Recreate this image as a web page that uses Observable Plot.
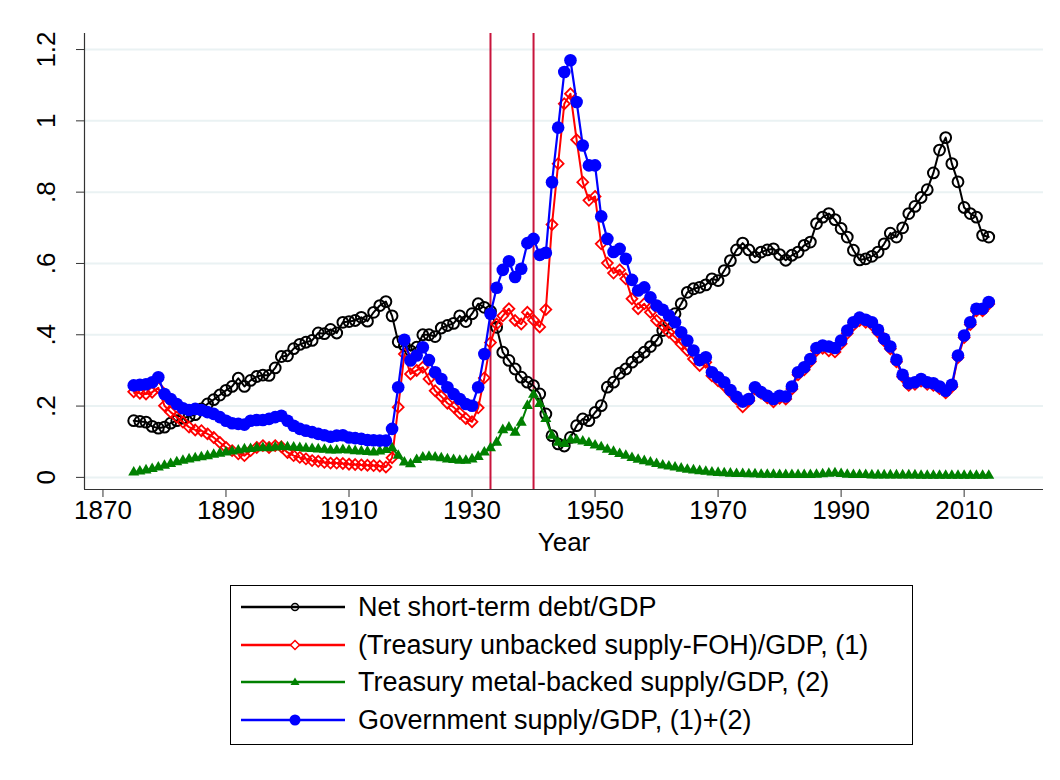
<!DOCTYPE html>
<html><head><meta charset="utf-8">
<script src="https://cdn.jsdelivr.net/npm/d3@7"></script>
<script src="https://cdn.jsdelivr.net/npm/@observablehq/plot@0.6"></script>
<style>
body{margin:0;background:#fff;}
#wrap{position:relative;width:1060px;height:780px;font-family:"Liberation Sans",Arial,sans-serif;}
#chart{position:absolute;left:0;top:0;}
#legend{position:absolute;left:230px;top:585px;width:681px;height:158px;border:1px solid #000;background:#fff;}
.row{position:absolute;left:9px;height:38px;display:flex;align-items:center;font-size:27px;color:#000;white-space:nowrap;}
.row svg{margin-right:12px;}
</style></head><body><div id="wrap"><div id="chart"></div><div id="legend"></div></div>
<script>
const years = d3.range(1875, 2015);
const debt = [
 0.159,0.157,0.155,0.143,0.138,
 0.141,0.152,0.159,0.166,0.171,0.176,0.192,0.206,0.218,0.231,
 0.244,0.255,0.278,0.255,0.272,0.283,0.287,0.286,0.307,0.339,
 0.341,0.361,0.373,0.379,0.384,0.405,0.403,0.415,0.405,0.435,
 0.437,0.440,0.449,0.438,0.463,0.482,0.493,0.453,0.380,0.370,
 0.355,0.365,0.400,0.400,0.395,0.419,0.426,0.432,0.453,0.437,
 0.459,0.487,0.477,0.466,0.421,0.351,0.328,0.304,0.281,0.267,
 0.257,0.234,0.178,0.117,0.094,0.088,0.112,0.145,0.164,0.159,
 0.182,0.201,0.253,0.267,0.292,0.304,0.323,0.337,0.351,0.367,
 0.384,0.412,0.430,0.459,0.487,0.519,0.529,0.533,0.540,0.557,
 0.552,0.580,0.608,0.638,0.657,0.638,0.618,0.632,0.638,0.641,
 0.625,0.609,0.623,0.632,0.651,0.660,0.712,0.730,0.740,0.723,
 0.698,0.674,0.637,0.610,0.613,0.620,0.632,0.655,0.685,0.674,
 0.700,0.740,0.760,0.785,0.807,0.854,0.918,0.953,0.880,0.829,
 0.757,0.740,0.730,0.679,0.674];
const unbacked = [
 0.240,0.236,0.234,0.239,0.251,
 0.201,0.183,0.169,0.155,0.141,0.133,0.131,0.122,0.112,0.098,
 0.084,0.075,0.066,0.061,0.075,0.084,0.089,0.084,0.089,0.086,
 0.070,0.061,0.056,0.052,0.047,0.045,0.042,0.040,0.040,0.039,
 0.037,0.036,0.035,0.034,0.033,0.032,0.029,0.055,0.197,0.346,
 0.290,0.300,0.309,0.276,0.243,0.227,0.208,0.197,0.180,0.165,
 0.156,0.195,0.279,0.378,0.430,0.453,0.473,0.440,0.430,0.463,
 0.441,0.422,0.471,0.709,0.880,1.048,1.076,0.947,0.828,0.777,
 0.788,0.655,0.601,0.573,0.582,0.557,0.501,0.473,0.487,0.463,
 0.440,0.426,0.407,0.393,0.374,0.356,0.332,0.314,0.323,0.285,
 0.271,0.257,0.239,0.220,0.198,0.215,0.248,0.236,0.223,0.212,
 0.222,0.220,0.248,0.288,0.302,0.325,0.356,0.362,0.355,0.352,
 0.375,0.404,0.427,0.440,0.435,0.428,0.407,0.383,0.361,0.324,
 0.282,0.258,0.261,0.270,0.261,0.258,0.249,0.237,0.254,0.336,
 0.392,0.429,0.467,0.467,0.486];
const metal = [
 0.014,0.017,0.020,0.024,0.028,
 0.033,0.038,0.043,0.047,0.051,0.054,0.057,0.060,0.064,0.067,
 0.070,0.073,0.076,0.079,0.080,0.082,0.083,0.082,0.084,0.086,
 0.085,0.084,0.083,0.081,0.080,0.079,0.078,0.076,0.076,0.077,
 0.076,0.074,0.073,0.072,0.070,0.073,0.077,0.082,0.061,0.042,
 0.037,0.049,0.056,0.058,0.056,0.054,0.051,0.049,0.047,0.047,
 0.051,0.058,0.070,0.082,0.098,0.133,0.140,0.126,0.154,0.201,
 0.232,0.206,0.164,0.117,0.098,0.094,0.105,0.105,0.101,0.097,
 0.090,0.085,0.078,0.072,0.066,0.061,0.055,0.050,0.046,0.042,
 0.038,0.034,0.031,0.028,0.025,0.022,0.020,0.018,0.016,0.014,
 0.013,0.012,0.011,0.010,0.010,0.009,0.009,0.008,0.008,0.008,
 0.007,0.007,0.007,0.007,0.007,0.007,0.008,0.009,0.011,0.012,
 0.010,0.008,0.007,0.007,0.007,0.006,0.006,0.006,0.006,0.006,
 0.006,0.006,0.006,0.005,0.005,0.005,0.005,0.005,0.005,0.005,
 0.005,0.005,0.005,0.005,0.005];
const govt = [
 0.258,0.260,0.261,0.267,0.281,
 0.234,0.220,0.206,0.194,0.189,0.192,0.189,0.183,0.178,0.169,
 0.159,0.152,0.150,0.148,0.159,0.161,0.161,0.164,0.169,0.173,
 0.159,0.145,0.136,0.131,0.127,0.122,0.118,0.114,0.117,0.118,
 0.112,0.110,0.108,0.105,0.104,0.103,0.103,0.136,0.253,0.386,
 0.328,0.342,0.365,0.329,0.295,0.276,0.253,0.234,0.220,0.206,
 0.201,0.253,0.346,0.459,0.532,0.582,0.606,0.562,0.585,0.657,
 0.669,0.624,0.630,0.828,0.981,1.137,1.170,1.053,0.931,0.875,
 0.875,0.732,0.669,0.632,0.641,0.613,0.554,0.524,0.533,0.505,
 0.482,0.470,0.454,0.435,0.407,0.384,0.356,0.329,0.337,0.295,
 0.281,0.267,0.245,0.226,0.213,0.220,0.253,0.239,0.229,0.220,
 0.229,0.227,0.255,0.295,0.309,0.332,0.363,0.370,0.367,0.363,
 0.384,0.412,0.435,0.448,0.442,0.435,0.414,0.389,0.367,0.330,
 0.288,0.264,0.267,0.276,0.267,0.264,0.255,0.243,0.260,0.342,
 0.398,0.435,0.473,0.473,0.492];
const seriesNames = ["Net short-term debt/GDP","(Treasury unbacked supply-FOH)/GDP, (1)","Treasury metal-backed supply/GDP, (2)","Government supply/GDP, (1)+(2)"];
const xTicks = [1870,1890,1910,1930,1950,1970,1990,2010];
const yTicks = [0,0.2,0.4,0.6,0.8,1,1.2];
const yLabels = ["0",".2",".4",".6",".8","1","1.2"];
const vLines = [1933,1940];

const FONT = '"Liberation Sans",Arial,sans-serif';
const toRows = arr => years.map((y,i)=>({year:y, v:arr[i]}));
const dDebt = toRows(debt), dUnb = toRows(unbacked), dMet = toRows(metal), dGov = toRows(govt);
const xDomain = [1867, 2022.9], yDomain = [-0.034, 1.245];
const H = 570;

const chart = Plot.plot({
  width: 1060, height: H,
  marginLeft: 84, marginRight: 17, marginTop: 33, marginBottom: H - 489,
  x: {domain: xDomain}, y: {domain: yDomain},
  style: {fontFamily: FONT, fontSize: "26px", color: "#000", background: "#fff", overflow: "visible"},
  marks: [
    Plot.ruleY(yTicks, {y: d=>d, stroke: "#eaf2f3", strokeWidth: 2}),
    Plot.ruleX(vLines, {x: d=>d, stroke: "#c8143c", strokeWidth: 2}),
    Plot.line(dDebt, {x:"year", y:"v", stroke:"#000", strokeWidth:2}),
    Plot.dot(dDebt, {x:"year", y:"v", r:5.4, stroke:"#000", strokeWidth:2, fill:"none"}),
    Plot.line(dUnb, {x:"year", y:"v", stroke:"#ff0000", strokeWidth:2}),
    Plot.dot(dUnb, {x:"year", y:"v", symbol:"diamond2", r:4.9, stroke:"#ff0000", strokeWidth:1.8, fill:"none"}),
    Plot.line(dMet, {x:"year", y:"v", stroke:"#008000", strokeWidth:2}),
    Plot.dot(dMet, {x:"year", y:"v", symbol:"triangle", r:4.1, fill:"#008000", stroke:"none"}),
    Plot.line(dGov, {x:"year", y:"v", stroke:"#0000ff", strokeWidth:2.2}),
    Plot.dot(dGov, {x:"year", y:"v", r:6.3, fill:"#0000ff", stroke:"none"}),
    Plot.ruleX([xDomain[0]], {stroke:"#333", strokeWidth:1.2}),
    Plot.ruleY([yDomain[0]], {stroke:"#333", strokeWidth:1.2}),
    Plot.axisX({ticks: xTicks, tickFormat: d=>String(d), tickSize: 8, tickPadding: 3, fontSize: 26, label: null, stroke:"#333"}),
    Plot.axisY({ticks: yTicks, tickFormat: () => "", tickSize: 8, label: null, stroke:"#333"}),
    Plot.text(yTicks, {y: d=>d, text: (d,i)=>yLabels[i], frameAnchor: "left", dx: -38, rotate: -90, textAnchor: "middle", fontSize: 26}),
    Plot.text(["Year"], {frameAnchor: "bottom", dy: 61, fontSize: 26})
  ]
});
document.getElementById("chart").appendChild(chart);

const legend = document.getElementById("legend");
const keys = [
  {c:"#000", m:'<circle cx="55" cy="12" r="3.5" fill="none" stroke="#000" stroke-width="1.5"/>'},
  {c:"#ff0000", m:'<path d="M55,7.5L59.5,12L55,16.5L50.5,12Z" fill="#fff" stroke="#ff0000" stroke-width="1.5"/>'},
  {c:"#008000", m:'<path d="M55,7.5L59.5,15L50.5,15Z" fill="#008000"/>'},
  {c:"#0000ff", m:'<circle cx="55" cy="12" r="5.5" fill="#0000ff"/>'}
];
const rowCenters = [21,59,96,134];
seriesNames.forEach((name,i)=>{
  const row = document.createElement("div");
  row.className = "row";
  row.style.top = (rowCenters[i]-19) + "px";
  row.innerHTML = `<svg width="106" height="24"><line x1="1" y1="12" x2="105" y2="12" stroke="${keys[i].c}" stroke-width="2.5"/>${keys[i].m}</svg><span>${name}</span>`;
  legend.appendChild(row);
});
</script></body></html>
